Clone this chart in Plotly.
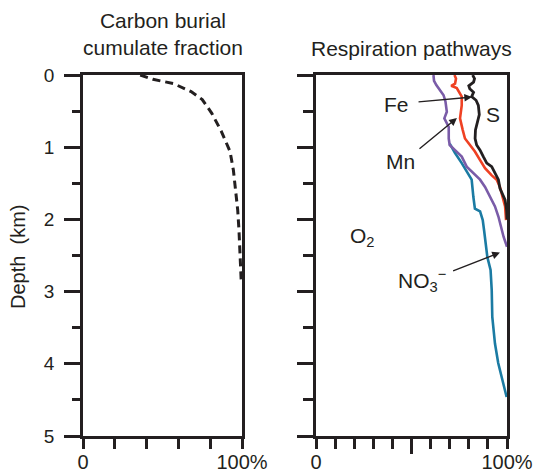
import plotly.graph_objects as go

# ---------------- data ----------------
carbon_depth = [0.0, 0.06, 0.12, 0.23, 0.34, 0.53, 0.78, 1.06, 1.32, 1.64, 1.87, 2.15, 2.38, 2.65, 2.9]
carbon_frac = [36, 44, 57, 68, 75, 81, 87, 92.5, 94.6, 96.2, 97.3, 98.1, 98.7, 99.2, 99.6]

s_depth = [0.0, 0.05, 0.10, 0.15, 0.19, 0.24, 0.30, 0.35, 0.42, 0.55, 0.76, 0.88, 0.97, 1.04,
           1.13, 1.22, 1.27, 1.36, 1.45, 1.57, 1.66, 1.73, 1.87, 2.0]
s_frac = [82.0, 83.0, 82.5, 80.0, 80.5, 82.5, 81.5, 83.8, 85.0, 85.5, 83.5, 83.3, 84.1, 85.9,
          87.6, 89.4, 92.0, 93.7, 95.5, 96.3, 97.7, 99.0, 99.8, 100]

fe_depth = [0.0, 0.05, 0.12, 0.15, 0.18, 0.25, 0.30, 0.42, 0.60, 0.76, 0.88, 0.97, 1.06, 1.18,
            1.29, 1.39, 1.45, 1.55, 1.69, 1.82, 2.01]
fe_frac = [72.5, 73.3, 72.8, 70.8, 73.7, 75.0, 76.3, 76.3, 75.4, 76.8, 78.0, 80.6, 83.2, 85.9,
           88.5, 92.0, 94.6, 96.3, 97.7, 99.0, 99.5]

mn_depth = [0.0, 0.08, 0.14, 0.21, 0.28, 0.37, 0.51, 0.60, 0.65, 0.72, 0.88, 0.97, 1.04, 1.13,
            1.27, 1.36, 1.45, 1.55, 1.69, 1.82, 1.96, 2.10, 2.24, 2.38]
mn_frac = [61.5, 61.8, 63.0, 65.0, 66.8, 67.8, 68.5, 67.2, 68.2, 69.5, 69.5, 70.0, 72.8, 76.3,
           78.9, 82.4, 85.9, 88.5, 91.1, 93.7, 95.5, 96.8, 98.2, 100]

no3_depth = [0.95, 1.08, 1.22, 1.36, 1.45, 1.69, 1.85, 1.89, 2.01, 2.15, 2.33, 2.52, 2.70, 2.98,
             3.35, 3.72, 3.99, 4.18, 4.32, 4.46]
no3_frac = [70.0, 72.8, 76.3, 79.7, 81.5, 82.4, 83.2, 85.9, 87.3, 88.0, 89.0, 89.7, 91.4, 92.0,
            92.3, 93.7, 95.4, 97.2, 98.4, 99.8]

depth_ticks = [0, 1, 2, 3, 4, 5]
depth_minor = [0.5, 1.5, 2.5, 3.5, 4.5]
left_xticks = [0, 20, 40, 60, 80, 100]
left_xlabels = ["0", "", "", "", "", "100%"]
right_xticks = [0, 10, 20, 30, 40, 50, 60, 70, 80, 90, 100]
right_xlabels = ["0", "", "", "", "", "", "", "", "", "", "100%"]

INK = "#231f20"
FONT = "Liberation Sans, Arial, Helvetica, sans-serif"

fig = go.Figure()
fig.add_trace(go.Scatter(x=carbon_frac, y=carbon_depth, mode="lines", xaxis="x", yaxis="y",
                         line=dict(color=INK, width=3, dash="8px,5px"), showlegend=False))
fig.add_trace(go.Scatter(x=no3_frac, y=no3_depth, mode="lines", xaxis="x2", yaxis="y2",
                         line=dict(color="#1b7ba3", width=2.6), showlegend=False))
fig.add_trace(go.Scatter(x=mn_frac, y=mn_depth, mode="lines", xaxis="x2", yaxis="y2",
                         line=dict(color="#7a5ca8", width=2.6), showlegend=False))
fig.add_trace(go.Scatter(x=fe_frac, y=fe_depth, mode="lines", xaxis="x2", yaxis="y2",
                         line=dict(color="#ef4123", width=2.6), showlegend=False))
fig.add_trace(go.Scatter(x=s_frac, y=s_depth, mode="lines", xaxis="x2", yaxis="y2",
                         line=dict(color=INK, width=2.8), showlegend=False))
fig.add_trace(go.Scatter(x=[], y=[], xaxis="x3", yaxis="y2", showlegend=False))

W, H = 537, 474
xl = [83 / W, 242 / W]
xr = [316 / W, 507 / W]
yd = [(H - 436) / H, (H - 75) / H]

axis_common = dict(showline=True, linewidth=2.5, linecolor=INK, mirror=True, showgrid=False,
                   zeroline=False, ticks="outside", tickwidth=2.5, tickcolor=INK, automargin=False)

fig.update_layout(
    width=W, height=H, autosize=False,
    margin=dict(l=0, r=0, t=0, b=0, pad=0),
    paper_bgcolor="white", plot_bgcolor="white",
    font=dict(family=FONT, color=INK, size=20),
    xaxis=dict(domain=xl, anchor="y", range=[0, 100], tickvals=left_xticks, ticktext=left_xlabels,
               ticklen=10, tickfont=dict(size=20), ticklabelstandoff=-4, **axis_common),
    yaxis=dict(domain=yd, anchor="x", range=[5, 0], tickvals=depth_ticks, ticklen=16,
               tickfont=dict(size=19), ticklabelstandoff=6,
               minor=dict(tickvals=depth_minor, ticklen=8, ticks="outside", tickwidth=2.5, tickcolor=INK),
               **axis_common),
    xaxis2=dict(domain=xr, anchor="y2", range=[0, 100], tickvals=right_xticks, ticktext=right_xlabels,
                ticklen=10, tickfont=dict(size=20), ticklabelstandoff=-4, **axis_common),
    xaxis3=dict(overlaying="x2", anchor="y2", range=[0, 100], tickvals=[50], ticks="outside",
                ticklen=17, tickwidth=2.5, tickcolor=INK, showticklabels=False, showline=False,
                showgrid=False, zeroline=False, automargin=False),
    yaxis2=dict(domain=yd, anchor="x2", range=[5, 0], tickvals=depth_ticks, ticklen=16,
                showticklabels=False,
                minor=dict(tickvals=depth_minor, ticklen=10, ticks="outside", tickwidth=2.5, tickcolor=INK),
                **axis_common),
)

annotations = [
    dict(text="Carbon burial<br>cumulate fraction", x=162.5 / W, y=(H - 34) / H, xref="paper", yref="paper",
         showarrow=False, xanchor="center", yanchor="middle", font=dict(size=21)),
    dict(text="Respiration pathways", x=411.5 / W, y=(H - 49) / H, xref="paper", yref="paper",
         showarrow=False, xanchor="center", yanchor="middle", font=dict(size=21)),
    dict(text="Depth  (km)", x=18 / W, y=(H - 257) / H, xref="paper", yref="paper", textangle=-90,
         showarrow=False, xanchor="center", yanchor="middle", font=dict(size=20)),
    # labels in right panel
    dict(text="Fe", x=42.4, y=0.415, xref="x2", yref="y2", showarrow=False, font=dict(size=21)),
    dict(text="Mn", x=44.0, y=1.205, xref="x2", yref="y2", showarrow=False, font=dict(size=21)),
    dict(text="S", x=92.9, y=0.55, xref="x2", yref="y2", showarrow=False, font=dict(size=21)),
    dict(text="O<sub>2</sub>", x=24.5, y=2.24, xref="x2", yref="y2", showarrow=False, font=dict(size=21)),
    dict(text="NO<sub>3</sub><sup>\u2212</sup>", x=55.5, y=2.84, xref="x2", yref="y2", showarrow=False,
         font=dict(size=21)),
    # arrows
    dict(text="", x=81.7, y=0.305, ax=52.9, ay=0.374, xref="x2", yref="y2", axref="x2", ayref="y2",
         showarrow=True, arrowhead=2, arrowsize=1.1, arrowwidth=1.4, arrowcolor=INK),
    dict(text="", x=73.8, y=0.596, ax=53.4, ay=1.039, xref="x2", yref="y2", axref="x2", ayref="y2",
         showarrow=True, arrowhead=2, arrowsize=1.1, arrowwidth=1.4, arrowcolor=INK),
    dict(text="", x=96.3, y=2.46, ax=71.0, ay=2.72, xref="x2", yref="y2", axref="x2", ayref="y2",
         showarrow=True, arrowhead=2, arrowsize=1.1, arrowwidth=1.4, arrowcolor=INK),
]
fig.update_layout(annotations=annotations)

fig.write_html("out.html")
